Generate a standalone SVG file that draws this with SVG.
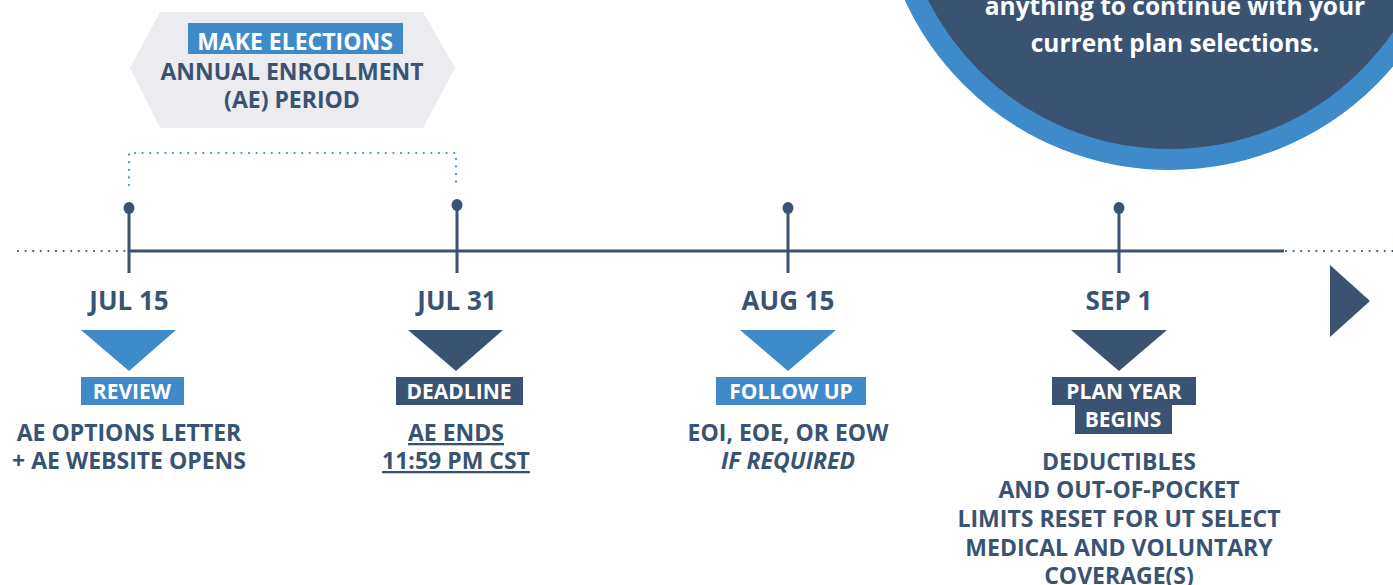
<svg xmlns="http://www.w3.org/2000/svg" width="1393" height="585" viewBox="0 0 1393 585">
<defs>
<style>
.t{font-family:"Open Sans","Liberation Sans",sans-serif;font-weight:bold;text-anchor:middle}
.d{fill:#3a5372}
.w{fill:#ffffff}
.lb{fill:#3f8ac9}
.dk{fill:#3a5372}
.body{font-size:23px}
.date{font-size:26px}
.tick{stroke:#3a5372;stroke-width:3;fill:none}
.dot{stroke:#3f8ac9;stroke-width:2.2;stroke-linecap:round;stroke-dasharray:0 7.6;fill:none}
.dotd{stroke:#3a5372;stroke-width:2.2;stroke-linecap:round;stroke-dasharray:0 7.6;fill:none}
</style>
</defs>
<rect width="1393" height="585" fill="#ffffff"/>

<g id="callout-circle">
<circle cx="1170" cy="-122" r="281.5" fill="#3a5372" stroke="#3f8ac9" stroke-width="21"/>
<text class="t w" x="1175" y="15" font-size="24.5">anything to continue with your</text>
<text class="t w" x="1175" y="52" font-size="24.5">current plan selections.</text>
</g>

<g id="ae-period">
<polygon points="130,68 160,12 423,12 455,68 423,128 160,128" fill="#ebebf0"/>
<rect x="188" y="23" width="215" height="31" class="lb"/>
<text class="t w body" x="295" y="50">MAKE ELECTIONS</text>
<text class="t d body" x="292" y="80">ANNUAL ENROLLMENT</text>
<text class="t d body" x="292" y="108">(AE) PERIOD</text>
</g>

<g id="connectors">
<path class="dot" d="M129,185 V153 H456 V185"/>
<path class="dotd" d="M18,251 H129"/>
<path class="dotd" d="M1286,251 H1393"/>
<line x1="129" y1="251" x2="1284" y2="251" stroke="#3a5372" stroke-width="3.2"/>
<line class="tick" x1="129" y1="208" x2="129" y2="273"/>
<line class="tick" x1="457" y1="205" x2="457" y2="273"/>
<line class="tick" x1="788" y1="208" x2="788" y2="273"/>
<line class="tick" x1="1119" y1="208" x2="1119" y2="273"/>
<ellipse cx="129" cy="208" rx="5.5" ry="6" class="dk"/>
<ellipse cx="457" cy="205" rx="5.5" ry="6" class="dk"/>
<ellipse cx="788" cy="208" rx="5.5" ry="6" class="dk"/>
<ellipse cx="1119" cy="208" rx="5.5" ry="6" class="dk"/>
<polygon points="1330,265 1370,301 1330,337" class="dk"/>
</g>

<g id="jul15">
<text class="t d date" x="129" y="310">JUL 15</text>
<polygon points="81,330 176,330 129,371" class="lb"/>
<rect x="81" y="377" width="103" height="28" class="lb"/>
<text class="t w" x="132" y="399" font-size="21">REVIEW</text>
<text class="t d body" x="129" y="441">AE OPTIONS LETTER</text>
<text class="t d body" x="129" y="469">+ AE WEBSITE OPENS</text>
</g>

<g id="jul31">
<text class="t d date" x="457" y="310">JUL 31</text>
<polygon points="408,330 503,330 456,371" class="dk"/>
<rect x="396" y="377" width="127" height="28" class="dk"/>
<text class="t w" x="459" y="399" font-size="21">DEADLINE</text>
<text class="t d body" x="456" y="441" text-decoration="underline">AE ENDS</text>
<text class="t d body" x="456" y="469" text-decoration="underline">11:59 PM CST</text>
</g>

<g id="aug15">
<text class="t d date" x="788" y="310">AUG 15</text>
<polygon points="740,330 836,330 788,371" class="lb"/>
<rect x="716" y="377" width="150" height="28" class="lb"/>
<text class="t w" x="791" y="399" font-size="21">FOLLOW UP</text>
<text class="t d body" x="788" y="441">EOI, EOE, OR EOW</text>
<text class="t d body" x="788" y="469" font-style="italic">IF REQUIRED</text>
</g>

<g id="sep1">
<text class="t d date" x="1119" y="310">SEP 1</text>
<polygon points="1071,330 1167,330 1119,371" class="dk"/>
<rect x="1052" y="377" width="144" height="28" class="dk"/>
<rect x="1075" y="405" width="97" height="29" class="dk"/>
<text class="t w" x="1124" y="399" font-size="21">PLAN YEAR</text>
<text class="t w" x="1123" y="427" font-size="21">BEGINS</text>
<text class="t d body" x="1119" y="470">DEDUCTIBLES</text>
<text class="t d body" x="1119" y="498">AND OUT-OF-POCKET</text>
<text class="t d body" x="1119" y="527">LIMITS RESET FOR UT SELECT</text>
<text class="t d body" x="1119" y="556">MEDICAL AND VOLUNTARY</text>
<text class="t d body" x="1119" y="584">COVERAGE(S)</text>
</g>
</svg>
